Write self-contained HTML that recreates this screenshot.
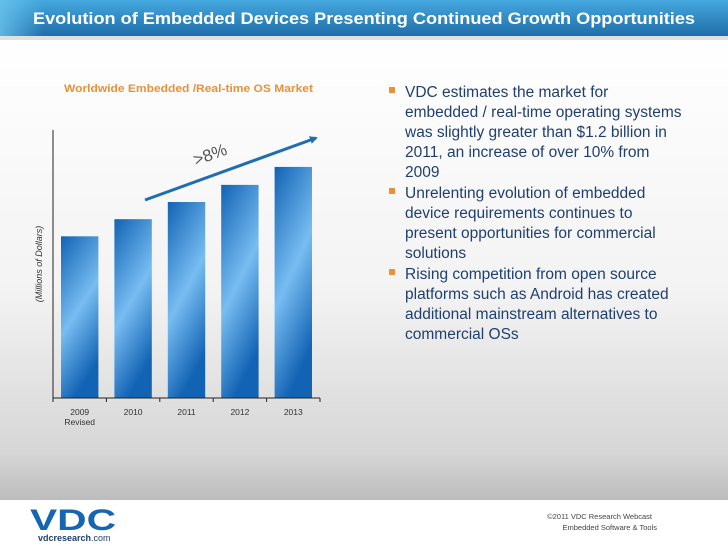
<!DOCTYPE html>
<html><head><meta charset="utf-8"><style>
html,body{margin:0;padding:0;width:728px;height:546px;overflow:hidden;background:#fff}
svg{display:block}
text{font-family:"Liberation Sans",sans-serif}
</style></head><body>
<svg id="s" width="728" height="546" viewBox="0 0 728 546" xmlns="http://www.w3.org/2000/svg">
<defs>
<linearGradient id="bg" x1="0" y1="0" x2="0" y2="1">
<stop offset="0" stop-color="#ffffff"/><stop offset="0.55" stop-color="#f3f3f3"/><stop offset="0.9" stop-color="#d6d6d6"/><stop offset="1" stop-color="#bdbdbd"/></linearGradient>
<linearGradient id="hd" x1="0" y1="0" x2="0" y2="1">
<stop offset="0" stop-color="#45a8df"/><stop offset="1" stop-color="#1f6ea9"/></linearGradient>
<linearGradient id="hdl" x1="0" y1="0" x2="1" y2="0">
<stop offset="0" stop-color="#6cc6ee" stop-opacity="0.8"/><stop offset="0.06" stop-color="#6cc6ee" stop-opacity="0"/></linearGradient>
<linearGradient id="bar" x1="0" y1="0" x2="0.35" y2="1">
<stop offset="0" stop-color="#1263b4"/><stop offset="0.55" stop-color="#78bdf2"/><stop offset="1" stop-color="#1263b4"/></linearGradient>
<marker id="ah" markerWidth="8" markerHeight="8" refX="6" refY="4" orient="auto" markerUnits="userSpaceOnUse"><path d="M0,0 L8,4 L0,8 Z" fill="#1f6eb0"/></marker>
</defs>
<rect x="0" y="36" width="728" height="464" fill="url(#bg)"/>
<rect x="0" y="500" width="728" height="46" fill="#fff"/>
<rect x="0" y="36" width="728" height="4" fill="#999" opacity="0.3"/>
<rect x="0" y="0" width="728" height="36" fill="url(#hd)"/>
<rect x="0" y="0" width="728" height="36" fill="url(#hdl)"/>
<text x="33" y="24" fill="#fff" font-size="17" font-weight="bold" textLength="662" lengthAdjust="spacingAndGlyphs">Evolution of Embedded Devices Presenting Continued Growth Opportunities</text>
<text x="64" y="92" fill="#e8913a" font-size="11" font-weight="bold" textLength="249" lengthAdjust="spacingAndGlyphs">Worldwide Embedded /Real-time OS Market</text>
<text transform="translate(42,264) rotate(-90)" text-anchor="middle" fill="#333" font-size="9" font-style="italic">(Millions of Dollars)</text>
<g id="chart"></g>
<line x1="145" y1="200" x2="316" y2="138" stroke="#1f6eb0" stroke-width="3" marker-end="url(#ah)"/>
<text transform="translate(212,160) rotate(-20)" text-anchor="middle" fill="#555" font-size="17">&gt;8%</text>
<g fill="#1f3f6f" font-size="15.5">
<rect x="389" y="87" width="6" height="6" fill="#e8913a"/>
<text x="405" y="97">VDC estimates the market for</text>
<text x="405" y="117">embedded / real-time operating systems</text>
<text x="405" y="137">was slightly greater than $1.2 billion in</text>
<text x="405" y="157">2011, an increase of over 10% from</text>
<text x="405" y="177">2009</text>
<rect x="389" y="188" width="6" height="6" fill="#e8913a"/>
<text x="405" y="198">Unrelenting evolution of embedded</text>
<text x="405" y="218">device requirements continues to</text>
<text x="405" y="238">present opportunities for  commercial</text>
<text x="405" y="258">solutions</text>
<rect x="389" y="269" width="6" height="6" fill="#e8913a"/>
<text x="405" y="279">Rising competition from open source</text>
<text x="405" y="299">platforms such as Android has created</text>
<text x="405" y="319">additional mainstream alternatives to</text>
<text x="405" y="339">commercial OSs</text>
</g>
<g>
<text x="30" y="530" fill="#1565b0" font-size="30" font-weight="bold" textLength="86" lengthAdjust="spacingAndGlyphs">VDC</text>
<text x="38" y="541" fill="#1f3f6f" font-size="9"><tspan font-weight="bold">vdcresearch</tspan>.com</text>
</g>
<text x="652" y="519" text-anchor="end" fill="#444" font-size="7.5">©2011 VDC Research Webcast</text>
<text x="657" y="530" text-anchor="end" fill="#444" font-size="7.5">Embedded Software &amp; Tools</text>
</svg>
<script>
const categories = ["2009", "2010", "2011", "2012", "2013"];
const subLabels = ["Revised", "", "", "", ""];
const values = [990, 1095, 1200, 1305, 1415];
const yMax = 1641;
const NS = "http://www.w3.org/2000/svg";
const g = document.getElementById("chart");
const x0 = 53, x1 = 320, yBase = 398, yTop = 130;
const band = (x1 - x0) / categories.length;
function xScale(i){ return x0 + band * i; }
function yScale(v){ return yBase - (v / yMax) * (yBase - yTop); }
function mk(tag, attrs){ const e = document.createElementNS(NS, tag); for (const k in attrs) e.setAttribute(k, attrs[k]); g.appendChild(e); return e; }
values.forEach((v, i) => {
  const r = mk("rect", {x: xScale(i) + 8, y: yScale(v), width: band - 16, height: yBase - yScale(v), fill: "url(#bar)"});
  
  
});
const ya = mk("line", {x1: x0, y1: yTop, x2: x0, y2: yBase, stroke: "#222", "stroke-width": 1});


const xa = mk("line", {x1: x0, y1: yBase, x2: x1, y2: yBase, stroke: "#222", "stroke-width": 1});


for (let i = 0; i <= categories.length; i++) {
  mk("line", {x1: xScale(i), y1: yBase, x2: xScale(i), y2: yBase + 4, stroke: "#222"});
}
categories.forEach((c, i) => {
  const t = mk("text", {x: xScale(i) + band / 2, y: yBase + 17, "text-anchor": "middle", "font-size": 8.5, fill: "#333"});
  t.textContent = c;
  
  
  if (subLabels[i]) {
    const s = mk("text", {x: xScale(i) + band / 2, y: yBase + 27, "text-anchor": "middle", "font-size": 8.5, fill: "#333"});
    s.textContent = subLabels[i];
    
    
  }
});
</script>
</body></html>
